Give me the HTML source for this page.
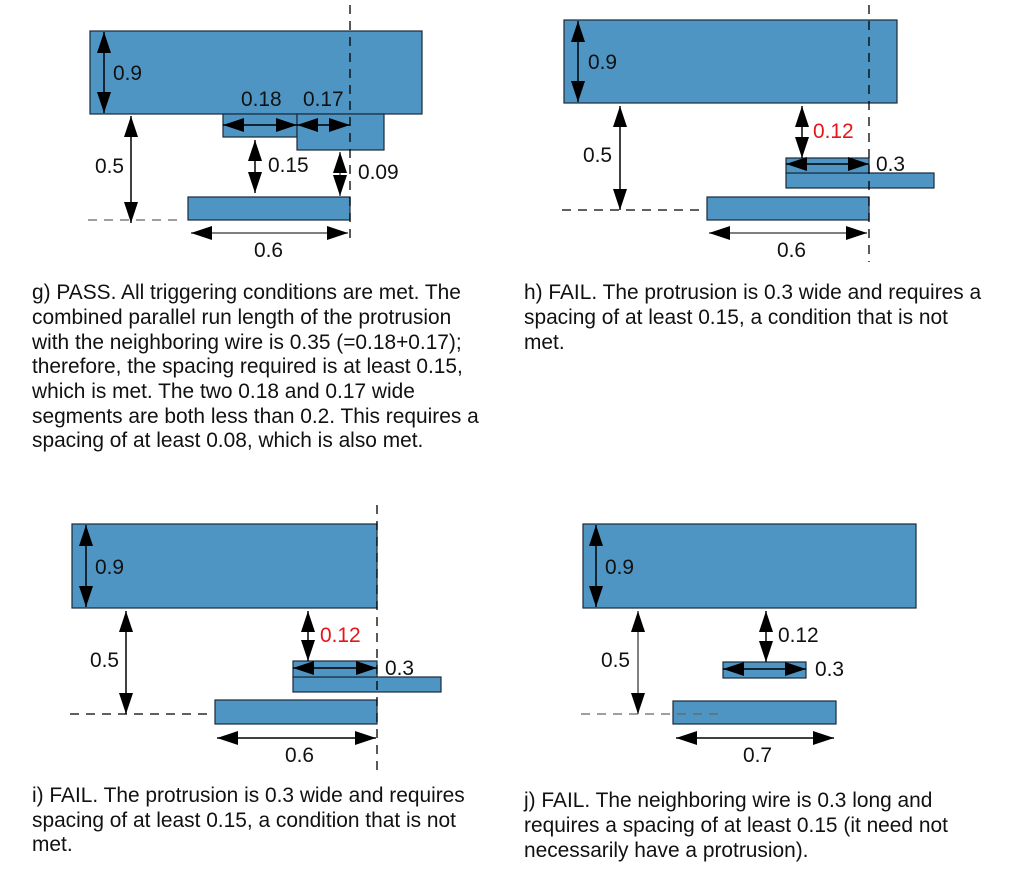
<!DOCTYPE html>
<html><head><meta charset="utf-8"><style>
html,body{margin:0;padding:0;background:#fff;width:1013px;height:882px;overflow:hidden}
svg{display:block}
text{font-family:"Liberation Sans",Arial,sans-serif;font-size:20.9px;fill:#111}
.r{fill:#4f95c4;stroke:#1a2a3a;stroke-width:1.2}
.a{stroke:#000;stroke-width:1.5;fill:none;marker-start:url(#ah);marker-end:url(#ah)}
.g{stroke:#555}
.d{stroke:#000;stroke-width:1.3;stroke-dasharray:9,7;fill:none}
.red{fill:#e8141a}
</style></head><body>
<svg width="1013" height="882" viewBox="0 0 1013 882" xmlns="http://www.w3.org/2000/svg">
<defs>
<marker id="ah" markerUnits="userSpaceOnUse" markerWidth="22" markerHeight="14" refX="21" refY="7" orient="auto-start-reverse" viewBox="0 0 22 14">
<path d="M0,0 L21,7 L0,14 z" fill="#000"/></marker>
</defs>

<!-- g -->
<rect class="r" x="90" y="31" width="332" height="83"/>
<rect class="r" x="223" y="114" width="74" height="23"/>
<rect class="r" x="297" y="114" width="87" height="36"/>
<rect class="r" x="188" y="197" width="162" height="23"/>
<line class="d" x1="350" y1="5" x2="350" y2="242"/>
<line class="d" x1="88" y1="220" x2="180" y2="220" style="stroke:#666"/>
<line class="a" x1="104" y1="32" x2="104" y2="113"/>
<text x="113" y="80">0.9</text>
<line class="a" x1="131" y1="116" x2="131" y2="223"/>
<text x="95" y="173">0.5</text>
<line class="a" x1="223" y1="125" x2="297" y2="125"/>
<line class="a" x1="297" y1="125" x2="350" y2="125"/>
<text x="241" y="106">0.18</text>
<text x="303" y="106">0.17</text>
<line class="a" x1="255" y1="140" x2="255" y2="193"/>
<text x="268" y="172">0.15</text>
<line class="a g" x1="340" y1="152" x2="340" y2="196"/>
<text x="358" y="179">0.09</text>
<line class="a g" x1="191" y1="233" x2="348" y2="233"/>
<text x="254" y="257">0.6</text>

<!-- h -->
<rect class="r" x="564" y="20" width="333" height="83"/>
<rect class="r" x="786" y="173" width="148" height="15"/>
<rect class="r" x="786" y="158" width="83" height="15"/>
<rect class="r" x="707" y="197" width="162" height="23"/>
<line class="d" x1="869" y1="5" x2="869" y2="262"/>
<line class="d" x1="562" y1="210" x2="705" y2="210"/>
<line class="a" x1="578" y1="21" x2="578" y2="102"/>
<text x="588" y="69">0.9</text>
<line class="a" x1="620" y1="106" x2="620" y2="210"/>
<text x="583" y="162">0.5</text>
<line class="a" x1="802" y1="106" x2="802" y2="158"/>
<text class="red" x="813" y="138">0.12</text>
<line class="a" x1="786" y1="164" x2="869" y2="164"/>
<text x="876" y="171">0.3</text>
<line class="a g" x1="709" y1="233" x2="867" y2="233"/>
<text x="777" y="257">0.6</text>

<!-- i -->
<rect class="r" x="72" y="524" width="305" height="84"/>
<rect class="r" x="293" y="677" width="148" height="15"/>
<rect class="r" x="293" y="661" width="84" height="16"/>
<rect class="r" x="215" y="700" width="162" height="24"/>
<line class="d" x1="377" y1="505" x2="377" y2="770"/>
<line class="d" x1="70" y1="714" x2="212" y2="714"/>
<line class="a" x1="86" y1="525" x2="86" y2="607"/>
<text x="95" y="574">0.9</text>
<line class="a" x1="126" y1="611" x2="126" y2="714"/>
<text x="90" y="667">0.5</text>
<line class="a" x1="308" y1="611" x2="308" y2="661"/>
<text class="red" x="320" y="642">0.12</text>
<line class="a" x1="293" y1="668" x2="377" y2="668"/>
<text x="385" y="675">0.3</text>
<line class="a" x1="217" y1="738" x2="376" y2="738"/>
<text x="285" y="762">0.6</text>

<!-- j -->
<rect class="r" x="583" y="524" width="333" height="84"/>
<rect class="r" x="723" y="662" width="83" height="16"/>
<rect class="r" x="673" y="701" width="163" height="23"/>
<line class="d" x1="581" y1="714" x2="725" y2="714" style="stroke:#666"/>
<line class="a" x1="596" y1="525" x2="596" y2="607"/>
<text x="605" y="574">0.9</text>
<line class="a g" x1="638" y1="611" x2="638" y2="714"/>
<text x="601" y="667">0.5</text>
<line class="a" x1="766" y1="611" x2="766" y2="662"/>
<text x="778" y="642">0.12</text>
<line class="a" x1="723" y1="669" x2="806" y2="669"/>
<text x="815" y="676">0.3</text>
<line class="a" x1="676" y1="738" x2="834" y2="738"/>
<text x="743" y="762">0.7</text>

<!-- captions -->
<text x="32" y="299">g) PASS. All triggering conditions are met. The</text>
<text x="32" y="324">combined parallel run length of the protrusion</text>
<text x="32" y="349">with the neighboring wire is 0.35 (=0.18+0.17);</text>
<text x="32" y="373">therefore, the spacing required is at least 0.15,</text>
<text x="32" y="398">which is met. The two 0.18 and 0.17 wide</text>
<text x="32" y="423">segments are both less than 0.2. This requires a</text>
<text x="32" y="447">spacing of at least 0.08, which is also met.</text>

<text x="524" y="299">h) FAIL. The protrusion is 0.3 wide and requires a</text>
<text x="524" y="324">spacing of at least 0.15, a condition that is not</text>
<text x="524" y="349">met.</text>

<text x="32" y="802">i) FAIL. The protrusion is 0.3 wide and requires</text>
<text x="32" y="827">spacing of at least 0.15, a condition that is not</text>
<text x="32" y="851">met.</text>

<text x="524" y="807">j) FAIL. The neighboring wire is 0.3 long and</text>
<text x="524" y="832">requires a spacing of at least 0.15 (it need not</text>
<text x="524" y="857">necessarily have a protrusion).</text>
</svg>
</body></html>
